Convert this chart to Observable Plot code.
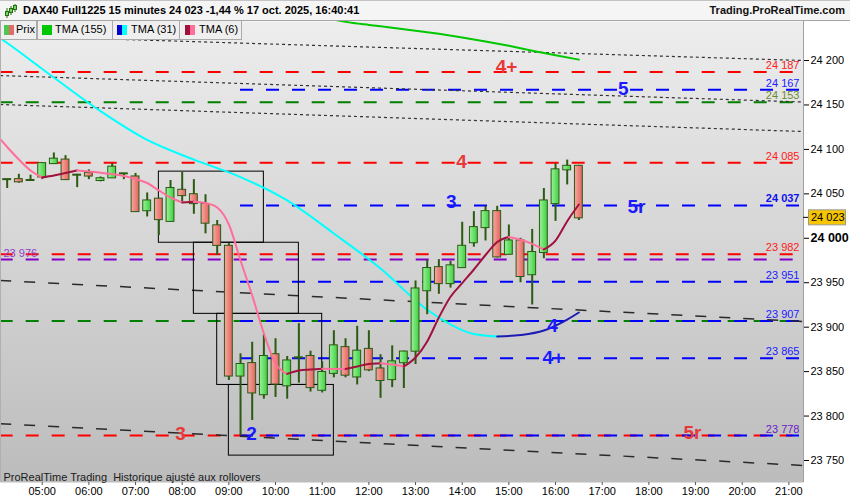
<!DOCTYPE html>
<html><head><meta charset="utf-8">
<script src="https://cdn.jsdelivr.net/npm/d3@7"></script>
<script src="https://cdn.jsdelivr.net/npm/@observablehq/plot@0.6"></script>
<style>
body{margin:0;background:#fff;font-family:"Liberation Sans",Arial,sans-serif;}
#wrap{position:relative;width:850px;height:500px;overflow:hidden;background:#fff;}
#hdr{position:absolute;left:0;top:0;width:850px;height:21px;box-sizing:border-box;background:#f5f5f5;border-top:1px solid #c4c4c4;border-bottom:1px solid #a4a4a4;z-index:2;}
#icon{position:absolute;left:4px;top:2px;}
#title{position:absolute;left:23px;top:3px;font-size:11px;font-weight:bold;color:#000;white-space:nowrap;}
#site{position:absolute;right:5px;top:3px;font-size:11px;font-weight:bold;color:#111;white-space:nowrap;}
#chart{position:absolute;left:0;top:21px;}
.lg{position:absolute;top:21px;height:19px;box-sizing:border-box;border:1px solid #aaa;border-top:none;background:#efefef;font-size:11px;color:#000;z-index:2;}
.lg .sw{position:absolute;top:4px;width:10px;height:10px;}
.lg .sw i{position:absolute;top:0;width:5px;height:10px;}
.lg span{position:absolute;top:2px;white-space:nowrap;}
</style></head>
<body>
<div id="wrap">
  <div id="chart"></div>
  <div id="hdr">
    <svg id="icon" width="14" height="16"><line x1="3" y1="5" x2="3" y2="15" stroke="#2a6a10"/><rect x="1.5" y="8.5" width="3" height="4" fill="#6d6" stroke="#2a6a10"/><line x1="7" y1="3" x2="7" y2="12" stroke="#2a6a10"/><rect x="5.5" y="5.5" width="3" height="4" fill="#6d6" stroke="#2a6a10"/><line x1="11" y1="1" x2="11" y2="9" stroke="#2a6a10"/><rect x="9.5" y="2.5" width="3" height="4" fill="#6d6" stroke="#2a6a10"/></svg>
    <div id="title">DAX40 Full1225 15 minutes 24 023 -1,44 % 17 oct. 2025, 16:40:41</div>
    <div id="site">Trading.ProRealTime.com</div>
  </div>
  <div class="lg" style="left:0;width:37px"><div class="sw" style="left:3px"><i style="left:0;background:#4fc64f"></i><i style="left:5px;background:#e46a6a"></i></div><span style="left:15px">Prix</span></div>
  <div class="lg" style="left:37px;width:76px"><div class="sw" style="left:4px;background:#00c800"></div><span style="left:17px">TMA (155)</span></div>
  <div class="lg" style="left:112px;width:68px"><div class="sw" style="left:4px"><i style="left:0;background:#0000d0"></i><i style="left:5px;background:#00ffff"></i></div><span style="left:18px">TMA (31)</span></div>
  <div class="lg" style="left:179px;width:63px"><div class="sw" style="left:5px"><i style="left:0;background:#a0123c"></i><i style="left:5px;background:#ff6f9a"></i></div><span style="left:19px">TMA (6)</span></div>
</div>
<script>
// ---------- data ----------
const candleTimes = ["04:15","04:30","04:45","05:00","05:15","05:30","05:45","06:00","06:15","06:30","06:45","07:00","07:15","07:30","07:45","08:00","08:15","08:30","08:45","09:00","09:15","09:30","09:45","10:00","10:15","10:30","10:45","11:00","11:15","11:30","11:45","12:00","12:15","12:30","12:45","13:00","13:15","13:30","13:45","14:00","14:15","14:30","14:45","15:00","15:15","15:30","15:45","16:00","16:15","16:30"];
const candleOpen = [24066,24066,24065,24069,24084,24088,24071,24073,24065,24068,24072.5,24069,24031,24044,24019,24054,24049,24038,24014,23991,23845,23859,23824,23869,23834,23865.5,23867,23829,23848,23877,23844,23875,23853,23841,23860,23873,23941,23967,23949,23967,23995,24012,24030,23982,23997,23959,23984,24039,24077,24081];
const candleHigh = [24066,24072,24071,24085,24096,24093,24072,24077,24069,24084,24073,24073,24051,24045,24065,24074,24066,24049,24020,23994,23870,23883,23892,23887,23867,23904,23873,23861,23896,23887,23901,23896,23869,23879,23873,23952,23975,23976,23974,24018,24030,24036,24036,24015,24000,24010,24056,24084,24088,24082];
const candleLow = [24056,24062,24065,24066,24083,24065,24057,24066,24063.5,24068,24066,24030,24024,24003,24019,24041,24027,24005,23981,23840,23778,23795,23819,23821,23819,23837,23827,23826,23843,23843,23835,23850,23820,23832,23831,23858,23914,23937,23944,23966,23990,23997,23978,23981,23950,23925,23977,24019,24060,24020];
const candleClose = [24066,24063.5,24065,24084,24089,24066,24071,24070,24067,24080,24072.5,24030,24042,24021,24056,24048,24039,24017,23992,23845,23858,23826,23867,23836,23862,23865.5,23832,23849,23879,23846,23873,23852,23840,23861,23872,23943,23966,23949,23969,23991,24012,24030,23979,23997,23957,23984,24042,24077,24081,24023];

const tma6Times = ["04:00","04:15","04:30","04:45","05:00","05:15","05:30","05:45","06:00","06:15","06:30","06:45","07:00","07:15","07:30","07:45","08:00","08:15","08:30","08:45","09:00","09:15","09:30","09:45","10:00","10:15","10:30","10:45","11:00","11:15","11:30","11:45","12:00","12:15","12:30","12:45","13:00","13:15","13:30","13:45","14:00","14:15","14:30","14:45","15:00","15:15","15:30","15:45","16:00","16:15","16:30"];
const tma6Values = [24117.9,24102.7,24088.6,24076.3,24068.4,24070.6,24073.4,24076.3,24075.1,24073.7,24072.3,24070.1,24066.7,24062.2,24053.8,24045.9,24040.4,24041.2,24039.7,24034.6,24015.5,23975.0,23935.6,23892.9,23859.1,23847.5,23851.3,23852.4,23853.2,23853.0,23852.9,23855.8,23858.6,23859.5,23858.0,23855.8,23865.9,23883.9,23910.9,23934.2,23949.6,23964.9,23981.2,23995.8,24001.4,23998.3,23993.8,23987.4,23997.5,24019.2,24038.0];

const tma31Times = ["04:00","04:15","05:15","06:15","07:15","08:15","09:15","10:15","11:15","12:15","13:15","14:15","14:45","15:15","15:45","16:15","16:30"];
const tma31Values = [24229,24219.7,24180.9,24143,24110.6,24088.5,24068.9,24042.6,24005.4,23966,23919.6,23892.3,23889.5,23891.2,23896.3,23908.6,23916.5];

const tma155Times = ["11:15","11:30","12:00","12:30","13:00","13:30","14:00","14:30","15:00","15:30","16:00","16:30"];
const tma155Values = [24246,24243.5,24240,24237,24233.5,24230,24226,24221.5,24216.5,24211,24206,24201];

const levelValues = [24187,24167,24153,24085,24037,23982,23976,23951,23907,23907,23865,23778,23778];
const levelColors = ["#ff0000","#0000ff","#008000","#ff0000","#0000ff","#ff0000","#8000c8","#0000ff","#008000","#0000ff","#0000ff","#ff0000","#0000ff"];
const levelStarts = ["04:06","09:15","04:06","04:06","09:15","04:06","04:06","09:15","04:06","09:15","09:15","04:06","09:15"];

const levelLabelValues = [24187,24167,24153,24085,24037,23982,23951,23907,23865,23778];
const levelLabelColors = ["#ff2020","#2020ff","#6b8c2c","#ff2020","#1010ee","#ff2020","#2020ff","#2020ff","#2020ff","#6a20c8"];
const levelLabelBold = [false,false,false,false,true,false,false,false,false,false];
const leftLabelValue = 23976;

const annotTexts = ["4+","5","4","3","5r","4","4+","3","2","5r"];
const annotTimes = ["14:57","17:27","13:59","13:46","17:44","15:56","15:57","07:58","09:29","18:56"];
const annotPrices = [24193,24168.5,24086.4,24041.4,24035.8,23901.9,23865.9,23780.4,23780.4,23781.5];
const annotColors = ["#e8383a","#1a1aff","#e8383a","#1a1aff","#1a1aff","#1a1aff","#1a1aff","#e8383a","#1a1aff","#e8383a"];

const trendKinds = ["dot","dot","dot","dash","dash"];
const trendStartTimes = ["04:06","04:06","04:06","04:06","04:06"];
const trendStartPrices = [24228,24183.1,24150.5,23952.5,23791.3];
const trendEndTimes = ["21:19","21:19","21:19","21:19","21:19"];
const trendEndPrices = [24200,24153.3,24120.1,23906.4,23744.4];

const boxStart = ["07:30","08:15","08:45","09:00"];
const boxEnd = ["09:45","10:30","11:00","11:15"];
const boxTop = [24075,23995,23915,23835];
const boxBottom = [23995,23915,23835,23755.5];

const hourLabels = ["05:00","06:00","07:00","08:00","09:00","10:00","11:00","12:00","13:00","14:00","15:00","16:00","17:00","18:00","19:00","20:00","21:00"];
const yTickValues = [23750,23800,23850,23900,23950,24000,24050,24100,24150,24200];
const footerText = "ProRealTime Trading\u00a0 Historique ajusté aux rollovers";

// ---------- build ----------
const T = s => { const [h,m] = s.split(":").map(Number); return h*60+m; };
const xMin = 246.4, xMax = 1278.8;
const fmt = d3.formatLocale({thousands:" ", grouping:[3], decimal:",", currency:["","€"]}).format(",d");

const candles = candleTimes.map((t,i)=>({t:T(t), o:candleOpen[i], h:candleHigh[i], l:candleLow[i], c:candleClose[i]}));
const up = candles.filter(d=>d.c>=d.o), dn = candles.filter(d=>d.c<d.o);

function runs(times, vals, upC, dnC) {
  const out=[]; let id=-1, prev=null;
  for (let i=1;i<vals.length;i++){
    const dir = vals[i]>=vals[i-1] ? "up" : "down";
    const c = dir==="up" ? upC : dnC;
    if (dir!==prev){ id++; prev=dir; out.push({id, t:T(times[i-1]), v:vals[i-1], c}); }
    out.push({id, t:T(times[i]), v:vals[i], c});
  }
  return out;
}
const tma6 = runs(tma6Times, tma6Values, "#a0123c", "#ff6f9a");
const tma31 = runs(tma31Times, tma31Values, "#1c1cb4", "#00ffff");
const tma155 = tma155Times.map((t,i)=>({t:T(t), v:tma155Values[i]}));

const levels = levelValues.map((v,i)=>({v, c:levelColors[i], s:T(levelStarts[i])}));
const levelLabels = levelLabelValues.map((v,i)=>({v, c:levelLabelColors[i], b:levelLabelBold[i], txt:fmt(v)}));
const annots = annotTexts.map((s,i)=>({s, t:T(annotTimes[i]), v:annotPrices[i], c:annotColors[i]}));
const trends = trendKinds.map((k,i)=>({k, t1:T(trendStartTimes[i]), v1:trendStartPrices[i], t2:T(trendEndTimes[i]), v2:trendEndPrices[i]}));
const boxes = boxStart.map((s,i)=>({a:T(s), b:T(boxEnd[i]), hi:boxTop[i], lo:boxBottom[i]}));

const wick = "#2b5a12";
const plot = Plot.plot({
  width: 850, height: 479,
  marginLeft: 0, marginRight: 47, marginTop: 0, marginBottom: 18,
  style: {fontFamily: '"Liberation Sans", Arial, sans-serif', fontSize: "11px", background: "#fff", overflow: "visible"},
  x: {type: "linear", domain: [xMin, xMax]},
  y: {domain: [23725.25, 24243.9]},
  color: {type: "identity"},
  marks: [
    Plot.frame({fill: "url(#bgGrad)", stroke: "none"}),
    Plot.ruleY(levels, {y: "v", x1: "s", x2: () => xMax, stroke: "c", strokeWidth: 2, strokeDasharray: "13,13", clip: true}),
    Plot.link(trends.filter(d=>d.k==="dot"), {x1:"t1", y1:"v1", x2:"t2", y2:"v2", stroke:"#333", strokeWidth:1.2, strokeDasharray:"3,3", clip:true}),
    Plot.link(trends.filter(d=>d.k==="dash"), {x1:"t1", y1:"v1", x2:"t2", y2:"v2", stroke:"#2a2a2a", strokeWidth:1.5, strokeDasharray:"11,13", clip:true}),
    Plot.rect(boxes, {x1:"a", x2:"b", y1:"lo", y2:"hi", fill:"none", stroke:"#000", strokeWidth:1}),
    Plot.line(tma155, {x:"t", y:"v", stroke:"#00c800", strokeWidth:2, curve:"monotone-x", clip:true}),
    Plot.line(tma31, {x:"t", y:"v", z:"id", stroke:"c", strokeWidth:2, curve:"monotone-x", clip:true}),
    Plot.ruleX(candles, {x:"t", y1:"l", y2:"h", stroke:wick, strokeWidth:2}),
    Plot.rect(up, {x1:d=>d.t-7.5, x2:d=>d.t+7.5, y1:"o", y2:"c", insetLeft:1.9, insetRight:1.9, insetTop:-0.5, insetBottom:-0.5, fill:"url(#gUp)", stroke:wick, strokeWidth:1}),
    Plot.rect(dn, {x1:d=>d.t-7.5, x2:d=>d.t+7.5, y1:"o", y2:"c", insetLeft:1.9, insetRight:1.9, insetTop:-0.5, insetBottom:-0.5, fill:"url(#gDn)", stroke:wick, strokeWidth:1}),
    Plot.line(tma6, {x:"t", y:"v", z:"id", stroke:"c", strokeWidth:2, curve:"monotone-x", clip:true}),
    Plot.text(levelLabels.filter(d=>!d.b), {x: () => xMax, y:"v", text:"txt", fill:"c", textAnchor:"end", lineAnchor:"bottom", dx:-4, dy:-3, fontSize:11}),
    Plot.text(levelLabels.filter(d=>d.b), {x: () => xMax, y:"v", text:"txt", fill:"c", textAnchor:"end", lineAnchor:"bottom", dx:-4, dy:-3, fontSize:11, fontWeight:"bold"}),
    Plot.text([leftLabelValue], {x: () => xMin, y: d=>d, text: d=>fmt(d), fill:"#9040d0", textAnchor:"start", lineAnchor:"bottom", dx:3, dy:-3, fontSize:11}),
    Plot.text(annots, {x:"t", y:"v", text:"s", fill:"c", fontSize:19, fontWeight:"bold"}),
    Plot.text([footerText], {frameAnchor:"bottom-left", text:d=>d, textAnchor:"start", lineAnchor:"bottom", dx:3, dy:-2, fill:"#1a1a1a", fontSize:11}),
    Plot.ruleX([xMin], {stroke:"#b0b0b0"}),
    Plot.ruleX([xMax], {stroke:"#a0a0a0"}),
    Plot.axisX(hourLabels.map(T), {anchor:"bottom", tickSize:3, tickPadding:2, tickFormat: m => hourLabels[hourLabels.map(T).indexOf(m)], fontSize:11, stroke:"#555"}),
    Plot.axisY(yTickValues.filter(v=>v!==24000), {anchor:"right", tickSize:5, tickPadding:2, tickFormat: fmt, fontSize:11}),
    Plot.axisY([24000], {anchor:"right", tickSize:5, tickPadding:2, tickFormat: fmt, fontSize:12.5, fontWeight:"bold"})
  ]
});

const defs = document.createElementNS("http://www.w3.org/2000/svg", "defs");
defs.innerHTML = `
<linearGradient id="bgGrad" x1="0" y1="0" x2="0" y2="1"><stop offset="0" stop-color="#ededed"/><stop offset="1" stop-color="#bcbcbc"/></linearGradient>
<linearGradient id="gUp" x1="0" y1="0" x2="1" y2="0"><stop offset="0" stop-color="#9af29a"/><stop offset="1" stop-color="#3fcf3f"/></linearGradient>
<linearGradient id="gDn" x1="0" y1="0" x2="1" y2="0"><stop offset="0" stop-color="#f7a9a2"/><stop offset="1" stop-color="#e2645e"/></linearGradient>`;
plot.insertBefore(defs, plot.firstChild);

// current price tag, positioned with the plot's own scales
const last = candleClose[candleClose.length-1];
const py = plot.scale("y").apply(last);
const px = plot.scale("x").apply(xMax);
const g = d3.select(plot).append("g");
g.append("line").attr("x1", px).attr("x2", px+5).attr("y1", py).attr("y2", py).attr("stroke", "#000");
g.append("rect").attr("x", px+5.5).attr("y", py-7.5).attr("width", 37).attr("height", 15).attr("fill", "#f7c600").attr("stroke", "#9a9a9a");
g.append("text").attr("x", px+8).attr("y", py).attr("dy", "0.35em").attr("text-anchor", "start").attr("font-size", 11).attr("fill", "#000").text(fmt(last));

document.getElementById("chart").appendChild(plot);
</script>
</body></html>
